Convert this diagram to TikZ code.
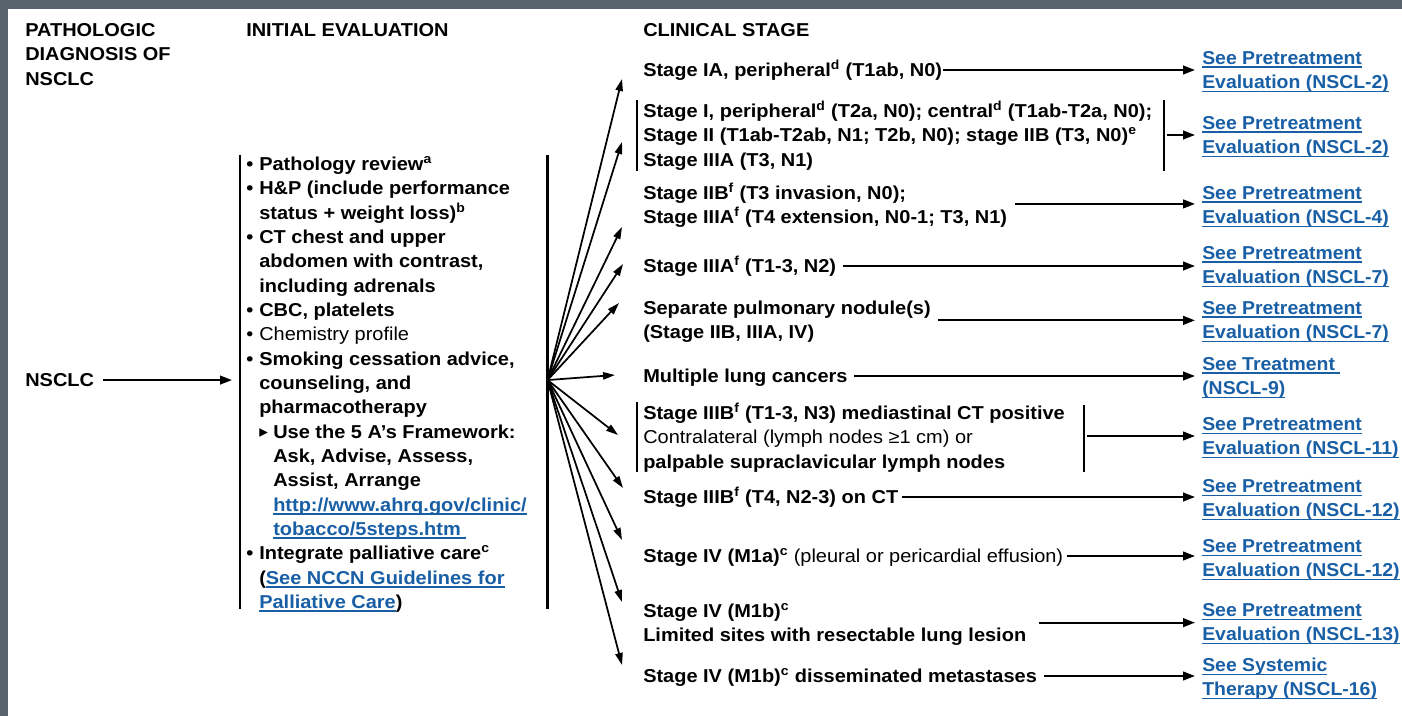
\documentclass[tikz,border=0pt]{standalone}
\usepackage{fontspec}
\setmainfont{Liberation Sans}[FakeStretch=1.07]
\newfontfamily\lkfont{Liberation Sans}[FakeStretch=1.04]
\newfontfamily\symfont{DejaVu Sans}
\usetikzlibrary{arrows.meta,calc}
\definecolor{linkblue}{RGB}{25,95,165}
\definecolor{framegray}{RGB}{88,99,109}
\newcommand{\fsz}{\fontsize{14pt}{18.25pt}\selectfont}
\newsavebox{\lkbox}
\newcommand{\lk}[1]{{\color{linkblue}\sbox{\lkbox}{#1}\rlap{\rule[-2.6pt]{\wd\lkbox}{1.1pt}}\usebox{\lkbox}}}
\newcommand{\lines}[1]{\vtop{\halign{##\hfil\cr#1\crcr}}}
\newcommand{\bul}{\makebox[9.75pt][l]{•}}
\newcommand{\ind}{\hspace*{9.75pt}}
\newcommand{\indd}{\hspace*{20.25pt}}
\newcommand{\tri}{\makebox[10.5pt][l]{\symfont\fontsize{13pt}{13pt}\selectfont\raisebox{0.3pt}{▸}}}
\tikzset{
  txt/.style={inner sep=0pt, anchor=base west, font=\fsz\bfseries},
  lnk/.style={inner sep=0pt, anchor=base west, font=\fsz\lkfont\bfseries},
  bar/.style={line width=1.7pt},
  harr/.style={line width=1.6pt, -{Triangle[length=9pt,width=6.5pt]}, shorten >=5.25pt},
  farr/.style={line width=1.3pt, -{Triangle[length=9pt,width=5.5pt]}},
}
\begin{document}
\begin{tikzpicture}[x=0.75pt,y=-0.75pt]
\useasboundingbox (0,0) rectangle (1402,716);
\fill[framegray] (0,0) rectangle (1402,716);
\fill[white] (8,9) rectangle (1402,716);

% headers
\node[txt] (h1) at (25,36.5) {\lines{PATHOLOGIC\cr DIAGNOSIS OF\cr NSCLC}};
\node[txt] (h2) at (246,36.5) {INITIAL EVALUATION};
\node[txt] (h3) at (643,36.5) {CLINICAL STAGE};

% left
\node[txt] (nsclc) at (25,386.5) {NSCLC};
\node[inner sep=0pt, minimum width=230.25pt, minimum height=339.75pt, anchor=north west] (evalbox) at (240,155) {};
\draw[bar] (evalbox.north west) -- (evalbox.south west);
\draw[bar] (evalbox.north east) -- (evalbox.south east);
\node[txt] (eval) at (246,170.5) {\lines{%
\bul Pathology review\textsuperscript{a}\cr
\bul H\&P (include performance\cr
\ind status + weight loss)\textsuperscript{b}\cr
\bul CT chest and upper\cr
\ind abdomen with contrast,\cr
\ind including adrenals\cr
\bul CBC, platelets\cr
{\mdseries\bul Chemistry profile}\cr
\bul Smoking cessation advice,\cr
\ind counseling, and\cr
\ind pharmacotherapy\cr
\ind\tri Use the 5 A’s Framework:\cr
\indd Ask, Advise, Assess,\cr
\indd Assist, Arrange\cr
\indd\lk{http://www.ahrq.gov/clinic/}\cr
\indd\lk{tobacco/5steps.htm\hspace{4pt}}\cr
\bul Integrate palliative care\textsuperscript{c}\cr
\ind(\lk{See NCCN Guidelines for}\cr
\ind\lk{Palliative Care})}};
\draw[harr, shorten <=6.75pt, shorten >=6pt] (nsclc.east) -- (nsclc.east -| evalbox.west);
\coordinate (fan) at (evalbox.east |- nsclc.east);

% clinical stages
\node[txt] (s1) at (643,76.5) {Stage IA, peripheral\textsuperscript{d} (T1ab, N0)};
\node[txt] (s2) at (643,117.5) {\lines{Stage I, peripheral\textsuperscript{d} (T2a, N0); central\textsuperscript{d} (T1ab-T2a, N0);\cr
Stage II (T1ab-T2ab, N1; T2b, N0); stage IIB (T3, N0)\textsuperscript{e}\cr
Stage IIIA (T3, N1)}};
\node[txt] (s3) at (643,199.5) {\lines{Stage IIB\textsuperscript{f} (T3 invasion, N0);\cr
Stage IIIA\textsuperscript{f} (T4 extension, N0-1; T3, N1)}};
\node[txt] (s4) at (643,272.5) {Stage IIIA\textsuperscript{f} (T1-3, N2)};
\node[txt] (s5) at (643,314.5) {\lines{Separate pulmonary nodule(s)\cr (Stage IIB, IIIA, IV)}};
\node[txt] (s6) at (643,382.5) {Multiple lung cancers};
\node[txt] (s7) at (643,419.5) {\lines{Stage IIIB\textsuperscript{f} (T1-3, N3) mediastinal CT positive\cr
{\mdseries Contralateral (lymph nodes ≥1 cm) or}\cr
palpable supraclavicular lymph nodes}};
\node[txt] (s8) at (643,503.5) {Stage IIIB\textsuperscript{f} (T4, N2-3) on CT};
\node[txt] (s9) at (643,562.5) {Stage IV (M1a)\textsuperscript{c} {\mdseries (pleural or pericardial effusion)}};
\node[txt] (s10) at (643,617.5) {\lines{Stage IV (M1b)\textsuperscript{c}\cr Limited sites with resectable lung lesion}};
\node[txt] (s11) at (643,682.5) {Stage IV (M1b)\textsuperscript{c} disseminated metastases};

% bracket bars
\draw[bar] (637,100) -- (637,171);
\draw[bar] (1164,100) -- (1164,171);
\draw[bar] (637,402) -- (637,472);
\draw[bar] (1084,405) -- (1084,472);
\coordinate (b2) at (1164,135);
\coordinate (b7) at (1084,436);

% links
\node[lnk] (l1) at (1202,64.5) {\lines{\lk{See Pretreatment}\cr \lk{Evaluation (NSCL-2)}}};
\node[lnk] (l2) at (1202,129.5) {\lines{\lk{See Pretreatment}\cr \lk{Evaluation (NSCL-2)}}};
\node[lnk] (l3) at (1202,199.5) {\lines{\lk{See Pretreatment}\cr \lk{Evaluation (NSCL-4)}}};
\node[lnk] (l4) at (1202,259.5) {\lines{\lk{See Pretreatment}\cr \lk{Evaluation (NSCL-7)}}};
\node[lnk] (l5) at (1202,314.5) {\lines{\lk{See Pretreatment}\cr \lk{Evaluation (NSCL-7)}}};
\node[lnk] (l6) at (1202,370.5) {\lines{\lk{See Treatment\hspace{4pt}}\cr \lk{(NSCL-9)}}};
\node[lnk] (l7) at (1202,430.5) {\lines{\lk{See Pretreatment}\cr \lk{Evaluation (NSCL-11)}}};
\node[lnk] (l8) at (1202,492.5) {\lines{\lk{See Pretreatment}\cr \lk{Evaluation (NSCL-12)}}};
\node[lnk] (l9) at (1202,552.5) {\lines{\lk{See Pretreatment}\cr \lk{Evaluation (NSCL-12)}}};
\node[lnk] (l10) at (1202,616.5) {\lines{\lk{See Pretreatment}\cr \lk{Evaluation (NSCL-13)}}};
\node[lnk] (l11) at (1202,671.5) {\lines{\lk{See Systemic}\cr \lk{Therapy (NSCL-16)}}};

% horizontal arrows
\draw[harr, shorten <=0.75pt] ($(s1.base east)+(0,-6.5)$) coordinate (a1) -- (a1 -| l1.west);
\draw[harr, shorten <=2.25pt] (b2) -- (b2 -| l2.west);
\draw[harr, shorten <=6pt] ($(s3.east)+(0,-1.5)$) coordinate (a3) -- (a3 -| l3.west);
\draw[harr, shorten <=5.25pt] ($(s4.base east)+(0,-6.5)$) coordinate (a4) -- (a4 -| l4.west);
\draw[harr, shorten <=5.25pt] ($(s5.east)+(0,-1.5)$) coordinate (a5) -- (a5 -| l5.west);
\draw[harr, shorten <=4.5pt] ($(s6.base east)+(0,-6.5)$) coordinate (a6) -- (a6 -| l6.west);
\draw[harr, shorten <=2.25pt] (b7) -- (b7 -| l7.west);
\draw[harr, shorten <=2.25pt] ($(s8.base east)+(0,-6.5)$) coordinate (a8) -- (a8 -| l8.west);
\draw[harr, shorten <=3pt] ($(s9.base east)+(0,-6.5)$) coordinate (a9) -- (a9 -| l9.west);
\draw[harr, shorten <=9.75pt] ($(s10.east)+(0,-2)$) coordinate (a10) -- (a10 -| l10.west);
\draw[harr, shorten <=5.25pt] ($(s11.base east)+(0,-6.5)$) coordinate (a11) -- (a11 -| l11.west);

% fan arrows
\coordinate (t1) at (622,79);
\coordinate (t2) at (622,142);
\coordinate (t3) at (622,227);
\coordinate (t4) at (623,264);
\coordinate (t5) at (619,303);
\coordinate (t6) at (615,375);
\coordinate (t7) at (618,435);
\coordinate (t8) at (623,488);
\coordinate (t9) at (622,540);
\coordinate (t10) at (622,602);
\coordinate (t11) at (622,665);
\foreach \t in {t1,t2,t3,t4,t5,t6,t7,t8,t9,t10,t11}
  \draw[farr] (fan) -- (\t);
\end{tikzpicture}
\end{document}
